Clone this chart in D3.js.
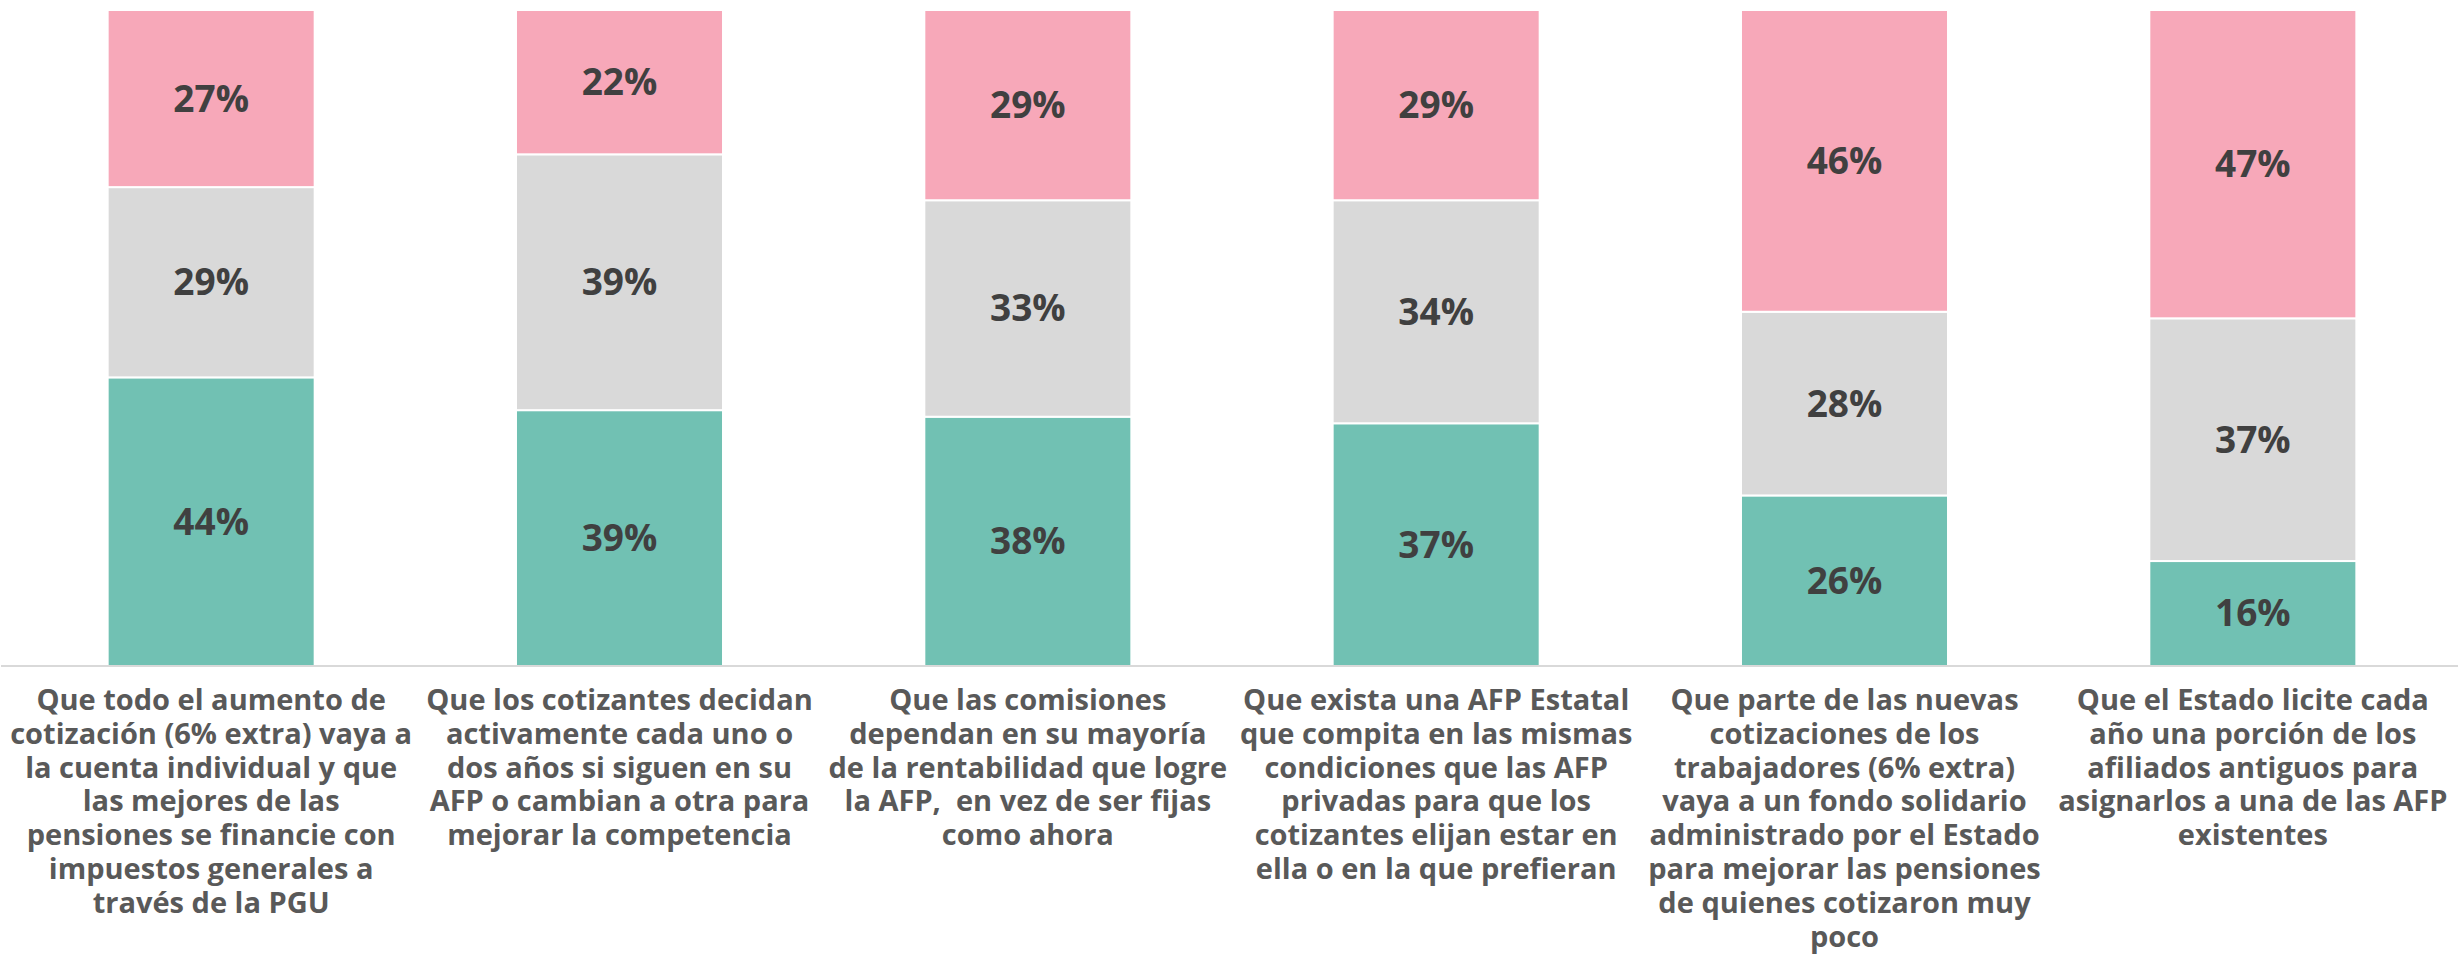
<!DOCTYPE html>
<html>
<head>
<meta charset="utf-8">
<script src="https://cdn.jsdelivr.net/npm/d3@7"></script>
<style>
  html, body { margin: 0; padding: 0; background: #ffffff; }
  svg { display: block; }
  text { white-space: pre; }
</style>
</head>
<body>
<svg id="chart" width="2458" height="956"></svg>
<script>
const categories = [
  "Que todo el aumento de\ncotización (6% extra) vaya a\nla cuenta individual y que\nlas mejores de las\npensiones se financie con\nimpuestos generales a\ntravés de la PGU",
  "Que los cotizantes decidan\nactivamente cada uno o\ndos años si siguen en su\nAFP o cambian a otra para\nmejorar la competencia",
  "Que las comisiones\ndependan en su mayoría\nde la rentabilidad que logre\nla AFP,  en vez de ser fijas\ncomo ahora",
  "Que exista una AFP Estatal\nque compita en las mismas\ncondiciones que las AFP\nprivadas para que los\ncotizantes elijan estar en\nella o en la que prefieran",
  "Que parte de las nuevas\ncotizaciones de los\ntrabajadores (6% extra)\nvaya a un fondo solidario\nadministrado por el Estado\npara mejorar las pensiones\nde quienes cotizaron muy\npoco",
  "Que el Estado licite cada\naño una porción de los\nafiliados antiguos para\nasignarlos a una de las AFP\nexistentes"
];
const seriesKeys = ["green", "gray", "pink"];
const greenValues = [44, 39, 38, 37, 26, 16];
const grayValues  = [29, 39, 33, 34, 28, 37];
const pinkValues  = [27, 22, 29, 29, 46, 47];
const seriesColors = ["#71c1b3", "#d9d9d9", "#f7a8b9"];

const rows = categories.map((c, i) => ({
  cat: c, green: greenValues[i], gray: grayValues[i], pink: pinkValues[i]
}));

const svg = d3.select("#chart");
const x = d3.scaleBand().domain(categories).range([7, 2457]).paddingInner(0.493).paddingOuter(0.2465);
const y = d3.scaleLinear().domain([0, 100]).range([666, 10]);
const color = d3.scaleOrdinal().domain(seriesKeys).range(seriesColors);

const stacked = d3.stack().keys(seriesKeys)(rows);

const groups = svg.append("g").selectAll("g")
  .data(stacked).join("g")
  .attr("fill", d => color(d.key));

groups.selectAll("rect")
  .data(d => d.map(v => ({...v, key: d.key})))
  .join("rect")
  .attr("x", d => x(d.data.cat))
  .attr("width", x.bandwidth())
  .attr("y", d => y(d[1]))
  .attr("height", d => y(d[0]) - y(d[1]))
  .attr("stroke", "#ffffff")
  .attr("stroke-width", 2);

// axis baseline
const axis = svg.append("g").attr("transform", "translate(0,666)")
  .call(d3.axisBottom(x).tickSize(0).tickFormat(""));
axis.select(".domain").attr("stroke", "#d9d9d9").attr("stroke-width", 2)
  .attr("d", "M1,0H2458");

// value labels
groups.selectAll("text.val")
  .data(d => d.map(v => ({...v, key: d.key})))
  .join("text")
  .attr("class", "val")
  .attr("x", d => x(d.data.cat) + x.bandwidth() / 2)
  .attr("y", d => (y(d[0]) + y(d[1])) / 2)
  .attr("dy", "0.35em")
  .attr("text-anchor", "middle")
  .attr("fill", "#404040")
  .attr("font-family", "'Open Sans', sans-serif")
  .attr("font-weight", 700)
  .attr("font-size", 37)
  .text(d => (d[1] - d[0]) + "%");

// category labels
const lab = svg.append("g").selectAll("text")
  .data(categories).join("text")
  .attr("x", d => x(d) + x.bandwidth() / 2)
  .attr("y", 710)
  .attr("text-anchor", "middle")
  .attr("fill", "#595959")
  .attr("font-family", "'Open Sans', sans-serif")
  .attr("font-weight", 700)
  .attr("font-size", 29);
lab.each(function(d) {
  const t = d3.select(this);
  d.split("\n").forEach((line, i) => {
    t.append("tspan")
      .attr("x", x(d) + x.bandwidth() / 2)
      .attr("dy", i === 0 ? 0 : 33.8)
      .text(line);
  });
});
</script>
</body>
</html>
